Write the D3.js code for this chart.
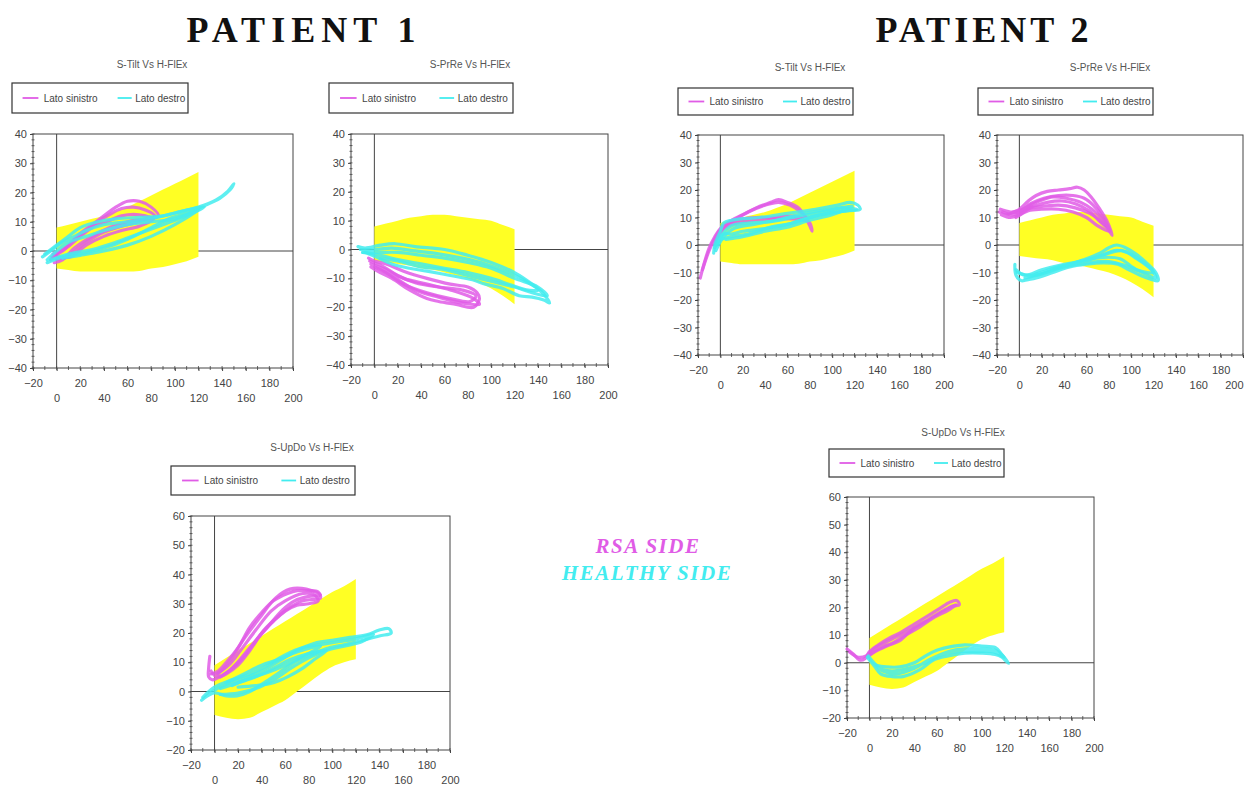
<!DOCTYPE html>
<html>
<head>
<meta charset="utf-8">
<script src="https://cdn.jsdelivr.net/npm/d3@7"></script>
<style>
body { margin: 0; background: #fff; }
svg text { font-family: "Liberation Sans", Arial, sans-serif; }
</style>
</head>
<body>
<svg id="chart" width="1247" height="787"></svg>
<script>
// ---- tick labels ----
const xTickValues = [-20, 0, 20, 40, 60, 80, 100, 120, 140, 160, 180, 200];
const yTicksTilt = [-40, -30, -20, -10, 0, 10, 20, 30, 40];
const yTicksUpDo = [-20, -10, 0, 10, 20, 30, 40, 50, 60];
const legendNames = ["Lato sinistro", "Lato destro"];

// ---- normative corridors (yellow), x = H-FlEx ----
const bandX = [0, 10, 20, 30, 40, 50, 60, 70, 80, 90, 100, 110, 120];
const tiltHi = [8, 9, 10, 11, 12, 13.5, 15, 17, 19, 21, 23, 25, 27];
const tiltLo = [-6, -6.5, -7, -7, -7, -7, -7, -6.8, -6, -5.5, -4.5, -3.5, -2];
const prreHi = [8, 9, 10, 11, 11.5, 12, 12, 11.5, 11, 10.5, 10, 8.5, 7];
const prreLo = [-4, -4.5, -5, -5.5, -6.5, -7, -8, -9, -10, -11.5, -13.5, -16, -19];
const updoHi = [9, 11.5, 14, 16.5, 19, 21.5, 24, 26.5, 29, 31.5, 34, 36, 38.5];
const updoLo = [-8, -9, -9.5, -9, -7, -5, -3, 0, 3, 6, 8.5, 10, 11];

// ---- patient 1, S-Tilt ----
const p1TiltSin = [
  [[-5,-3],[0,-1],[10,2],[20,6],[30,9],[40,12],[50,15],[60,17],[70,17],[80,15],[86,12],[75,11],[60,10],[45,8],[30,5],[15,1],[5,-3],[-2,-4]],
  [[-4,-2],[5,0],[15,4],[25,7],[35,10],[45,12.5],[55,14.5],[65,15],[75,14],[83,12],[70,10],[55,8.5],[40,6.5],[25,3],[12,-1],[0,-3]],
  [[-3,-1],[8,1],[20,5],[30,8],[42,10],[55,12],[65,12.5],[75,12],[82,11],[70,8.5],[55,7],[40,5],[25,2],[12,-2],[0,-2]]
];
const p1TiltDes = [
  [[-12,-2],[-5,0],[5,3],[15,5],[25,7],[40,9],[60,10],[80,11],[100,13],[120,15],[135,17.5],[145,20.5],[150,23],[147,21],[138,18],[125,15.5],[110,13],[95,11],[80,8],[60,4],[40,1],[20,-1],[5,-2],[-8,-4]],
  [[-10,-1],[0,2],[10,5],[20,8],[35,10],[50,11],[70,11.5],[90,12],[110,14],[125,15],[110,12],[90,9],[70,6],[50,3],[30,0.5],[10,-1],[-5,-3]],
  [[-8,-3],[0,0],[10,3],[25,5],[40,7],[60,9],[80,10],[100,11],[120,14],[100,9],[80,5],[60,2],[40,0],[20,-1.5],[5,-2.5]]
];

// ---- patient 1, S-PrRe ----
const p1PrreSin = [
  [[-5,-3],[0,-4],[10,-5],[25,-7.5],[45,-10],[65,-12],[80,-13],[88,-15],[90,-17],[85,-20],[70,-19],[55,-18],[45,-17],[30,-14],[15,-10],[5,-8],[-3,-6]],
  [[-4,-4],[8,-6],[20,-9],[35,-11.5],[55,-13],[75,-14],[87,-16],[82,-18],[65,-17],[45,-15],[25,-12],[10,-8],[0,-6]],
  [[-3,-5],[10,-7],[25,-10],[45,-12],[65,-14],[85,-17],[90,-19],[75,-18.5],[55,-16.5],[35,-14],[15,-9],[2,-6]]
];
const p1PrreDes = [
  [[-14,1],[-8,0.5],[5,1.5],[18,2],[35,1],[60,0],[80,-2],[100,-4.5],[120,-8],[135,-12],[145,-15.5],[150,-18.5],[145,-17.5],[135,-16.5],[124,-16],[110,-13.5],[95,-12],[84,-10.5],[65,-9],[45,-7.5],[30,-6.5],[15,-5],[4,-3],[-8,-1]],
  [[-12,0],[0,0],[15,0.5],[35,-0.5],[55,-1.5],[75,-3],[95,-5],[115,-8],[130,-11],[140,-14],[130,-14],[115,-12],[100,-10],[80,-8],[60,-6.5],[40,-5],[20,-3.5],[5,-2],[-10,-1]],
  [[-10,-1],[5,-1],[20,-1],[40,-2],[60,-3],[80,-4.5],[100,-6.5],[120,-10],[140,-13],[148,-16],[135,-15],[120,-13],[100,-11],[80,-9],[60,-7],[40,-6],[20,-4],[5,-3]]
];

// ---- patient 2, S-Tilt ----
const p2TiltSin = [
  [[-18,-12],[-14,-6],[-10,-1],[-5,3],[0,6],[10,9],[20,11],[32,13.5],[45,15.5],[52,16.5],[60,15.5],[70,13.5],[76,10],[80,7],[82,5],[80,8],[72,10],[62,10.5],[45,10],[32,10],[20,9.5],[8,8],[0,5],[-5,0]],
  [[-16,-9],[-10,-2],[-4,3],[2,6.5],[12,9],[25,12],[40,14.5],[52,15.5],[62,14.5],[72,12],[78,9],[65,9.5],[48,9.5],[30,9],[15,8],[3,6],[-4,1]]
];
const p2TiltDes = [
  [[-6,-3],[-5,0],[0,5],[3,8],[10,9],[18,9.5],[35,10],[60,11.5],[85,13],[105,14.5],[116,15.5],[123,14.5],[125,13],[115,12.5],[95,11.5],[75,9.5],[60,7.5],[40,6],[20,5],[10,4],[3,4],[-3,0]],
  [[-5,-1],[2,4],[10,7],[25,8],[45,8.5],[65,10],[90,12],[110,13.5],[122,13],[105,12],[85,10.5],[65,8],[45,6.5],[25,4],[10,3],[0,2]],
  [[-4,-2],[3,3],[12,6],[30,7.5],[50,9],[75,11.5],[100,13],[118,14],[100,11],[80,9],[60,6.5],[40,5],[20,3],[5,2]]
];

// ---- patient 2, S-PrRe ----
const p2PrreSin = [
  [[-18,12],[-12,11],[-5,12],[0,13],[8,16],[15,18],[25,19.5],[35,20],[45,20.5],[52,21],[58,20],[65,17],[72,13],[78,9],[82,5],[83,3.5],[79,6],[72,9],[63,11.5],[50,13.5],[35,14.5],[20,14],[10,13.5],[0,11],[-8,10],[-16,11]],
  [[-17,13],[-8,12],[0,12],[10,15],[22,17],[35,18],[48,18],[58,17],[66,14.5],[74,10.5],[80,6],[72,8.5],[62,12.5],[50,15],[38,16],[25,15.5],[12,14],[0,12.5],[-10,11.5]],
  [[-15,12],[-5,11],[5,13.5],[18,16],[30,17.5],[42,17],[55,15.5],[65,13],[75,9],[81,5],[70,7],[60,10],[48,12],[35,13],[20,13],[8,12.5],[-3,10]]
];
const p2PrreDes = [
  [[-4,-7],[-3,-11],[2,-13],[10,-12],[20,-10.5],[30,-9],[45,-7],[60,-5],[72,-3],[80,-1],[87,0],[95,-1],[105,-3.5],[115,-7],[122,-10],[124,-13],[118,-12.5],[108,-11],[98,-9],[88,-7],[75,-6.5],[60,-7],[45,-8],[30,-10],[15,-12],[3,-13]],
  [[-3,-9],[5,-11],[20,-9],[40,-7],[60,-5.5],[80,-3],[92,-2],[105,-5],[118,-9],[122,-12],[110,-10],[95,-7.5],[80,-6],[60,-6.5],[40,-8],[20,-10.5],[5,-12]],
  [[-2,-10],[10,-11],[30,-8.5],[50,-6.5],[70,-4.5],[85,-2],[95,-2.5],[110,-6],[120,-10],[105,-9],[90,-5],[75,-4.5],[55,-6],[35,-8],[15,-10.5]]
];

// ---- patient 1, S-UpDo ----
const p1UpdoSin = [
  [[-4,12],[-5,8],[-5,5],[-2,4],[2,4.5],[10,6],[20,9],[30,14],[42,21],[55,26],[65,29],[75,31],[84,31.5],[90,32],[88,34],[80,34.5],[70,34.5],[62,33.5],[50,31],[40,27],[30,22],[20,15],[10,10],[3,7],[-3,6]],
  [[-3,7],[2,5],[12,7],[25,12],[38,19],[50,24],[60,27.5],[70,29.5],[80,30],[88,31],[85,33],[75,33.5],[60,31],[48,27.5],[35,21],[22,14],[12,9],[2,6]],
  [[5,5],[15,8],[30,15],[45,22],[58,28],[68,31],[80,32.5],[90,33],[78,35],[64,35],[52,32],[38,25],[25,18],[12,10],[3,6]]
];
const p1UpdoDes = [
  [[-11,-3],[-5,-1],[0,0.5],[10,2.5],[25,4.5],[40,7],[55,10.5],[70,14],[85,16.5],[100,17.5],[115,18.5],[130,19.5],[140,21],[148,21.5],[150,20],[140,19],[126,17.5],[110,16],[98,15],[85,13],[70,10.5],[55,6.5],[42,3],[30,0],[19,-1.5],[10,-1.5],[0,-0.5],[-8,-2]],
  [[-10,-2],[0,1.5],[15,4],[30,6],[45,9],[60,12.5],[75,15],[90,16],[105,17],[120,18],[135,19.5],[125,17],[110,15.5],[95,14],[80,11.5],[65,8],[50,4],[35,1],[20,-0.5],[5,-1]],
  [[5,1],[20,3],[35,5],[50,8],[65,11],[80,13],[95,14],[85,11],[75,8],[62,5],[50,3],[35,2],[20,1.5]],
  [[10,3],[25,6],[40,9],[55,11],[70,13.5],[90,15.5],[75,12],[60,9],[45,6.5],[30,4.5],[15,2]]
];

// ---- patient 2, S-UpDo ----
const p2UpdoSin = [
  [[-20,5],[-14,3],[-9,1],[-4,1.5],[0,4],[8,6.5],[18,9],[28,11],[40,14],[52,17],[62,19.5],[72,22],[78,22.5],[80,21],[74,20.5],[62,18],[50,15],[38,12],[27,8],[15,6],[5,4],[-2,2]],
  [[-18,4],[-10,2],[-3,2.5],[4,5],[15,7.5],[27,10],[40,12.5],[55,16],[68,19],[77,21],[70,19],[58,16.5],[45,13],[32,10],[20,7],[8,5],[0,3]]
];
const p2UpdoDes = [
  [[-2,2],[0,1],[5,-1.5],[10,-4],[20,-5],[30,-5],[45,-2.5],[57,1],[70,2.5],[85,3.5],[100,3.5],[112,3],[118,2],[122,0.5],[124,-0.2],[118,3],[112,5.5],[100,6],[85,6.5],[75,6],[60,4.5],[50,2.5],[40,0],[27,-1.5],[15,-1.5],[7,-1],[2,0]],
  [[-1,2.5],[4,0],[12,-3],[25,-4],[40,-2],[55,1.5],[70,4],[85,5],[100,5],[112,4.5],[120,2],[110,4],[95,4],[80,4],[65,3],[50,0],[35,-2],[20,-3],[8,-2]]
];

const colSin = "#e05ce6";
const colDes = "#43ecef";
const colBand = "#ffff24";
const inkCol = "#444";

const svg = d3.select("#chart");

// headers
svg.append("text").text("PATIENT 1")
  .attr("x", 304).attr("y", 42).attr("text-anchor", "middle")
  .style("font-family", "'Liberation Serif', 'DejaVu Serif', serif")
  .style("font-weight", "bold").style("font-size", "36px")
  .style("letter-spacing", "6px").attr("fill", "#111");
svg.append("text").text("PATIENT 2")
  .attr("x", 984).attr("y", 42).attr("text-anchor", "middle")
  .style("font-family", "'Liberation Serif', 'DejaVu Serif', serif")
  .style("font-weight", "bold").style("font-size", "36px")
  .style("letter-spacing", "4px").attr("fill", "#111");

svg.append("text").text("RSA SIDE")
  .attr("x", 648).attr("y", 553).attr("text-anchor", "middle")
  .style("font-family", "'Liberation Serif', 'DejaVu Serif', serif")
  .style("font-weight", "bold").style("font-style", "italic")
  .style("font-size", "21px").style("letter-spacing", "1.5px")
  .attr("fill", colSin);
svg.append("text").text("HEALTHY SIDE")
  .attr("x", 647).attr("y", 580).attr("text-anchor", "middle")
  .style("font-family", "'Liberation Serif', 'DejaVu Serif', serif")
  .style("font-weight", "bold").style("font-style", "italic")
  .style("font-size", "21px").style("letter-spacing", "1.5px")
  .attr("fill", colDes);

function makePanel(cfg) {
  let x = d3.scaleLinear().domain([-20, 200]).range([cfg.box[0], cfg.box[2]]);
  let y = d3.scaleLinear().domain(cfg.yDom).range([cfg.box[3], cfg.box[1]]);
  let g = svg.append("g");

  // title
  g.append("text").text(cfg.title)
    .attr("x", cfg.titleX).attr("y", cfg.titleY)
    .attr("text-anchor", "middle").style("font-size", "10px").attr("fill", "#555");

  // legend
  let lg = cfg.legend;
  g.append("rect").attr("x", lg[0]).attr("y", lg[1])
    .attr("width", lg[2] - lg[0]).attr("height", lg[3] - lg[1])
    .attr("fill", "#fff").attr("stroke", "#333").attr("stroke-width", 1.2);
  let my = (lg[1] + lg[3]) / 2;
  let lw = lg[2] - lg[0];
  [[colSin, 0.06, 0.15, 0.18], [colDes, 0.6, 0.68, 0.7]].forEach(function(e, i) {
    g.append("line")
      .attr("x1", lg[0] + e[1] * lw).attr("x2", lg[0] + e[2] * lw)
      .attr("y1", my).attr("y2", my)
      .attr("stroke", e[0]).attr("stroke-width", 1.8);
    g.append("text").text(legendNames[i])
      .attr("x", lg[0] + e[3] * lw).attr("y", my + 3.5)
      .style("font-size", "10px").attr("fill", "#444");
  });

  // frame
  g.append("rect").attr("x", cfg.box[0]).attr("y", cfg.box[1])
    .attr("width", cfg.box[2] - cfg.box[0]).attr("height", cfg.box[3] - cfg.box[1])
    .attr("fill", "none").attr("stroke", inkCol).attr("stroke-width", 1);

  // zero lines
  g.append("line").attr("x1", x(-20)).attr("x2", x(200))
    .attr("y1", y(0)).attr("y2", y(0)).attr("stroke", inkCol);
  g.append("line").attr("x1", x(0)).attr("x2", x(0))
    .attr("y1", y(cfg.yDom[0])).attr("y2", y(cfg.yDom[1])).attr("stroke", inkCol);

  // corridor
  let band = bandX.map(function(v, i) { return { x: v, hi: cfg.hi[i], lo: cfg.lo[i] }; });
  g.append("path").datum(band)
    .attr("d", d3.area().x(d => x(d.x)).y0(d => y(d.lo)).y1(d => y(d.hi)).curve(d3.curveMonotoneX))
    .attr("fill", colBand);

  // cycles
  let line = d3.line().x(d => x(d[0])).y(d => y(d[1])).curve(d3.curveCatmullRom);
  [[cfg.sin, colSin], [cfg.des, colDes]].forEach(function(s) {
    g.append("g").selectAll("path").data(s[0]).enter().append("path")
      .attr("d", line)
      .attr("fill", "none").attr("stroke", s[1])
      .attr("stroke-width", 3.2).attr("stroke-opacity", 0.85)
      .attr("stroke-linejoin", "round").attr("stroke-linecap", "round");
  });

  // axes
  let yAxis = g.append("g").attr("transform", "translate(" + cfg.box[0] + ",0)")
    .call(d3.axisLeft(y).tickValues(cfg.yTicks).tickSize(3).tickPadding(3));
  let xAxis = g.append("g").attr("transform", "translate(0," + cfg.box[3] + ")")
    .call(d3.axisBottom(x).tickValues(xTickValues).tickSize(3).tickPadding(8));
  [yAxis, xAxis].forEach(function(a) {
    a.select(".domain").remove();
    a.selectAll("line").attr("stroke", inkCol);
    a.selectAll("text").style("font-size", "11px").attr("fill", "#444")
      .style("font-family", "'Liberation Sans Narrow', 'Liberation Sans', Arial, sans-serif");
  });
  xAxis.selectAll("text")
    .attr("dy", function(d, i) { return i % 2 === 0 ? "0.71em" : "2.1em"; })
    .attr("text-anchor", function() {
      // keep the last label inside the page when the plot reaches the edge
      let b = this.getBBox();
      let m = this.parentNode.getCTM();
      return (m.e + b.x + b.width > 1246) ? "end" : "middle";
    });

  // small minor ticks
  let yMinor = [];
  for (let v = cfg.yDom[0]; v <= cfg.yDom[1]; v += 2) yMinor.push(v);
  g.append("g").selectAll("line").data(yMinor).enter().append("line")
    .attr("x1", cfg.box[0] - 1.5).attr("x2", cfg.box[0] + 1.5)
    .attr("y1", d => y(d)).attr("y2", d => y(d)).attr("stroke", inkCol).attr("stroke-width", 0.8);
  let xMinor = [];
  for (let v = -20; v <= 200; v += 10) xMinor.push(v);
  g.append("g").selectAll("line").data(xMinor).enter().append("line")
    .attr("x1", d => x(d)).attr("x2", d => x(d))
    .attr("y1", cfg.box[3] - 2).attr("y2", cfg.box[3] + 2).attr("stroke", inkCol).attr("stroke-width", 0.8);
}

const panels = [
  { title: "S-Tilt Vs H-FlEx", titleX: 152, titleY: 68, legend: [12, 83, 188, 113],
    box: [33, 134, 293, 368], yDom: [-40, 40], yTicks: yTicksTilt, hi: tiltHi, lo: tiltLo,
    sin: p1TiltSin, des: p1TiltDes },
  { title: "S-PrRe Vs H-FlEx", titleX: 470, titleY: 68, legend: [329, 83, 513, 113],
    box: [351, 134, 608, 365], yDom: [-40, 40], yTicks: yTicksTilt, hi: prreHi, lo: prreLo,
    sin: p1PrreSin, des: p1PrreDes },
  { title: "S-Tilt Vs H-FlEx", titleX: 810, titleY: 71, legend: [678, 88, 853, 115],
    box: [698, 135, 944, 355], yDom: [-40, 40], yTicks: yTicksTilt, hi: tiltHi, lo: tiltLo,
    sin: p2TiltSin, des: p2TiltDes },
  { title: "S-PrRe Vs H-FlEx", titleX: 1110, titleY: 71, legend: [978, 88, 1153, 115],
    box: [997, 135, 1243, 355], yDom: [-40, 40], yTicks: yTicksTilt, hi: prreHi, lo: prreLo,
    sin: p2PrreSin, des: p2PrreDes },
  { title: "S-UpDo Vs H-FlEx", titleX: 312, titleY: 451, legend: [171, 466, 355, 495],
    box: [191, 516, 450, 750], yDom: [-20, 60], yTicks: yTicksUpDo, hi: updoHi, lo: updoLo,
    sin: p1UpdoSin, des: p1UpdoDes },
  { title: "S-UpDo Vs H-FlEx", titleX: 963, titleY: 436, legend: [829, 449, 1004, 477],
    box: [847, 497, 1094, 718], yDom: [-20, 60], yTicks: yTicksUpDo, hi: updoHi, lo: updoLo,
    sin: p2UpdoSin, des: p2UpdoDes }
];

panels.forEach(makePanel);
</script>
</body>
</html>
